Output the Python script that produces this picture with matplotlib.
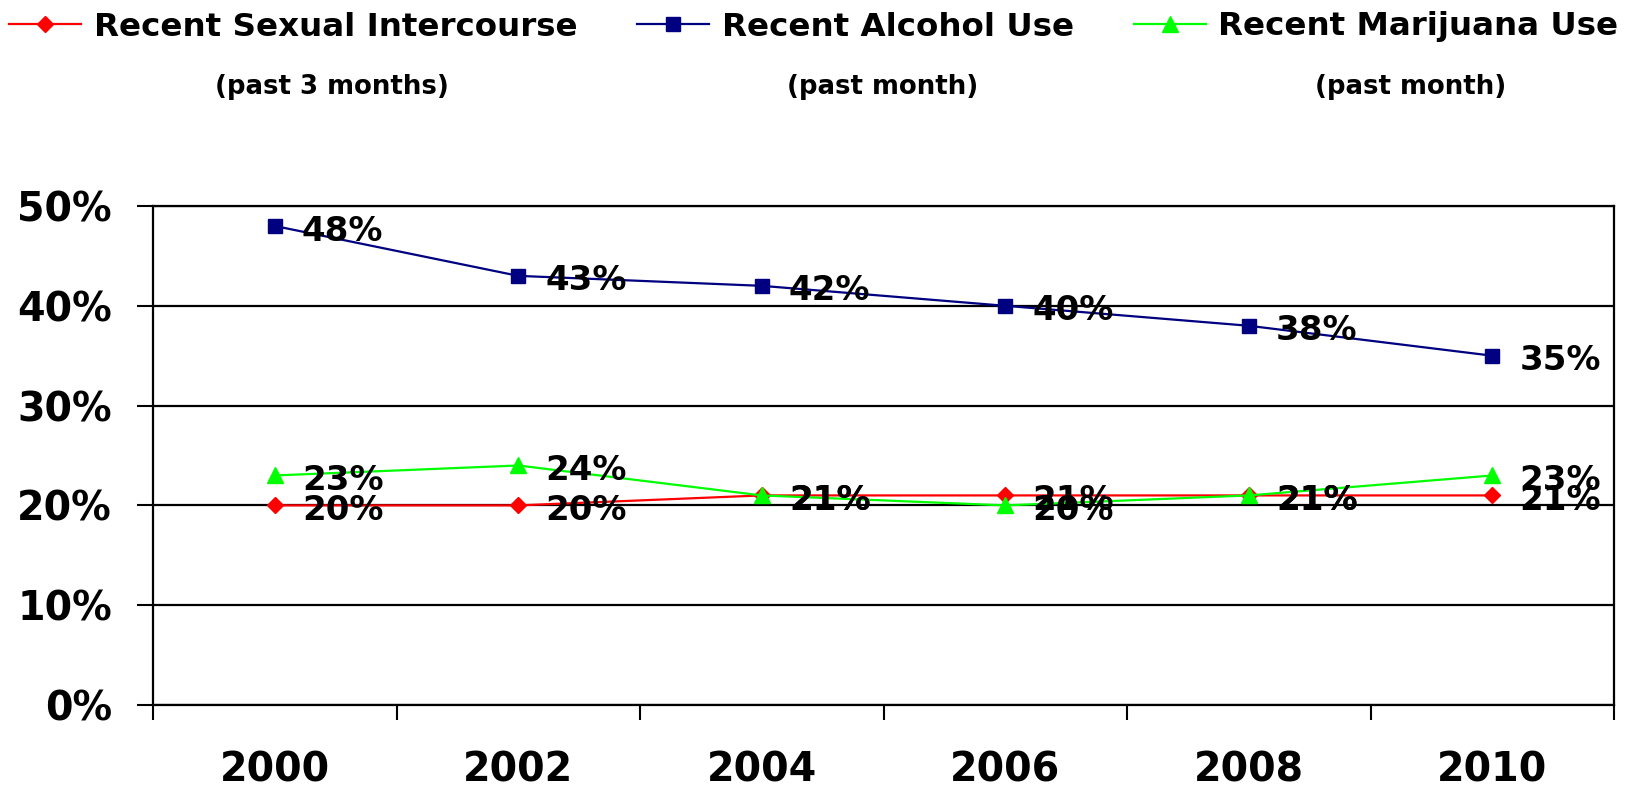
import matplotlib
matplotlib.use("Agg")
import matplotlib.pyplot as plt
from matplotlib.ticker import FixedLocator, FuncFormatter, NullFormatter

# ---- data -------------------------------------------------------------
years = ["2000", "2002", "2004", "2006", "2008", "2010"]
sexual_intercourse = [20, 20, 21, 21, 21, 21]
alcohol_use = [48, 43, 42, 40, 38, 35]
marijuana_use = [23, 24, 21, 20, 21, 23]

series_names = ["Recent Sexual Intercourse", "Recent Alcohol Use", "Recent Marijuana Use"]
series_periods = ["(past 3 months)", "(past month)", "(past month)"]

# ---- styling ----------------------------------------------------------
plt.rcParams["font.family"] = ["DejaVu Sans"]
plt.rcParams["font.weight"] = "bold"

W, H, DPI = 1634, 789, 100
fig = plt.figure(figsize=(W / DPI, H / DPI), dpi=DPI)
fig.patch.set_facecolor("white")

left, right, top, bottom = 153, 1614, 206, 705
ax = fig.add_axes([left / W, 1 - bottom / H, (right - left) / W, (bottom - top) / H])

x = list(range(len(years)))
styles = [
    (sexual_intercourse, "#FF0000", "D", 8.5),
    (alcohol_use, "#000080", "s", 10),
    (marijuana_use, "#00FF00", "^", 12),
]

handles = []
for (vals, color, marker, ms), name in zip(styles, series_names):
    (ln,) = ax.plot(x, vals, color=color, lw=1.6, marker=marker, ms=ms,
                    markeredgecolor=color, markerfacecolor=color, zorder=3,
                    label=name)
    handles.append(ln)
    for xi, v in zip(x, vals):
        ax.annotate(f"{v}%", (xi, v), xytext=(19.5, -10.5),
                    textcoords="offset points", ha="left", va="baseline",
                    fontsize=24.5, fontweight="bold", color="black", zorder=4)

# axes range and ticks
ax.set_xlim(-0.5, len(years) - 0.5)
ax.set_ylim(0, 50)
ax.yaxis.set_major_locator(FixedLocator([0, 10, 20, 30, 40, 50]))
ax.yaxis.set_major_formatter(FuncFormatter(lambda v, p: f"{v:.0f}%"))

ax.xaxis.set_major_locator(FixedLocator([i - 0.5 for i in range(len(years) + 1)]))
ax.xaxis.set_major_formatter(NullFormatter())
ax.xaxis.set_minor_locator(FixedLocator(x))
ax.set_xticklabels(years, minor=True)

ax.tick_params(axis="x", which="major", direction="out", length=11, width=1.5,
               color="black")
ax.tick_params(axis="x", which="minor", length=0, pad=32.5, labelsize=28.5)
ax.tick_params(axis="y", which="major", direction="out", length=11.5, width=1.5,
               color="black", pad=18, labelsize=28.5)
for lab in ax.get_xticklabels(minor=True) + ax.get_yticklabels():
    lab.set_fontweight("bold")

ax.grid(axis="y", color="black", lw=1.6, zorder=1)
ax.set_axisbelow(True)
for sp in ax.spines.values():
    sp.set_color("black")
    sp.set_linewidth(1.6)

# legend across the top
leg = ax.legend(handles=handles, loc="center left",
                bbox_to_anchor=(9 / W, 1 - 27 / H), bbox_transform=fig.transFigure,
                ncol=3, frameon=False, borderpad=0, borderaxespad=0,
                handlelength=2.2, handletextpad=0.4, columnspacing=1.85,
                prop={"size": 23.4, "weight": "bold"})

# reporting-period notes on the line below the legend
period_centers = [332, 883, 1411]
for cx, period in zip(period_centers, series_periods):
    fig.text(cx / W, 1 - 87 / H, period, ha="center", va="center",
             fontsize=18.7, fontweight="bold", color="black")

fig.savefig("out.png", dpi=DPI)
